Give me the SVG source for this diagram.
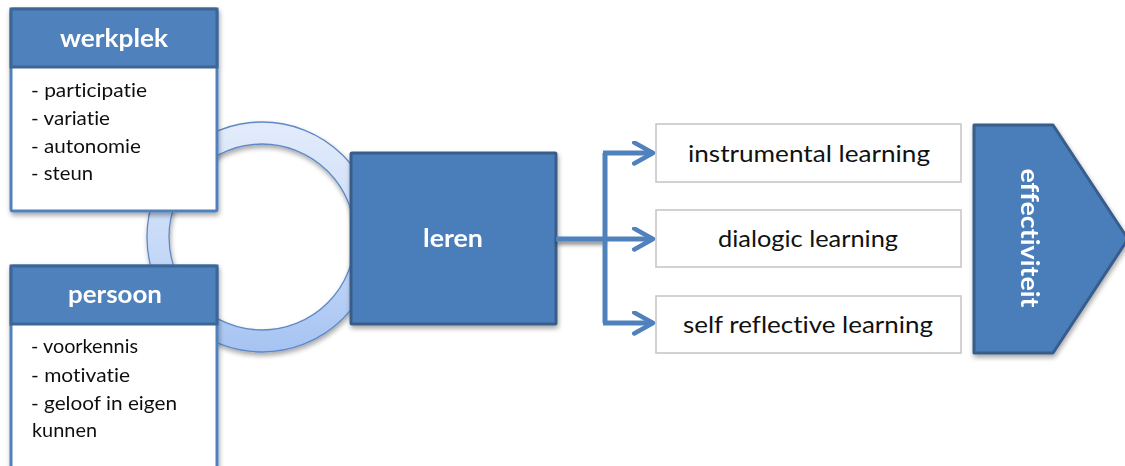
<svg xmlns="http://www.w3.org/2000/svg" width="1125" height="466" viewBox="0 0 1125 466">
  <defs>
    <linearGradient id="ringGrad" x1="0" y1="0" x2="0" y2="1">
      <stop offset="0" stop-color="#e3ecfb"/>
      <stop offset="0.5" stop-color="#c9dbf7"/>
      <stop offset="1" stop-color="#a6c3f2"/>
    </linearGradient>
    <filter id="shadow" x="-10%" y="-10%" width="125%" height="125%">
      <feGaussianBlur in="SourceAlpha" stdDeviation="2.5"/>
      <feOffset dx="1" dy="3" result="b"/>
      <feComponentTransfer><feFuncA type="linear" slope="0.35"/></feComponentTransfer>
      <feMerge><feMergeNode/><feMergeNode in="SourceGraphic"/></feMerge>
    </filter>
    <filter id="lineShadow" filterUnits="userSpaceOnUse" x="540" y="225" width="80" height="30">
      <feGaussianBlur in="SourceAlpha" stdDeviation="2"/>
      <feOffset dx="1" dy="3"/>
      <feComponentTransfer><feFuncA type="linear" slope="0.5"/></feComponentTransfer>
      <feMerge><feMergeNode/><feMergeNode in="SourceGraphic"/></feMerge>
    </filter>
    <marker id="chev" viewBox="0 0 12 12" refX="10" refY="6" markerWidth="5" markerHeight="5" markerUnits="strokeWidth" orient="auto">
      <path d="M1,1 L10,6 L1,11" fill="none" stroke="#4f81bd" stroke-width="2.2" stroke-linecap="round" stroke-linejoin="round"/>
    </marker>
  </defs>
  <style>
    text { font-variant-ligatures: none; }
    .frame { fill: #ffffff; stroke: #4f81bd; stroke-width: 3; }
    .head { fill: #4f81bd; stroke: #3d6596; stroke-width: 3; }
    .title { font-family: Lato, "Liberation Sans", sans-serif; font-weight: bold; font-size: 24px; fill: #ffffff; text-anchor: middle; }
    .item { font-family: Lato, "Liberation Sans", sans-serif; font-size: 19px; fill: #111111; }
    .outcome { fill: #ffffff; stroke: #c4c4c4; stroke-width: 1.5; }
    .label { font-family: Lato, "Liberation Sans", sans-serif; font-size: 24px; fill: #111111; text-anchor: middle; }
    .conn { fill: none; stroke: #4f81bd; stroke-width: 5; }
  </style>

  <rect width="1125" height="466" fill="#ffffff"/>

  <!-- cycle ring behind the two factor boxes -->
  <g id="ring" filter="url(#shadow)">
    <path d="M262,122 A115,115 0 1,1 262,352 A115,115 0 1,1 262,122 Z M262,144 A93,93 0 1,0 262,330 A93,93 0 1,0 262,144 Z" fill="url(#ringGrad)" fill-rule="evenodd" stroke="#5f89c6" stroke-width="1.3"/>
  </g>

  <!-- werkplek -->
  <g id="werkplek" filter="url(#shadow)">
    <rect class="frame" x="11" y="9" width="206" height="202" rx="2"/>
    <rect class="head" x="11" y="9" width="206" height="58"/>
    <text class="title" x="114" y="47" textLength="108" lengthAdjust="spacingAndGlyphs">werkplek</text>
    <text class="item" x="31" y="97" textLength="116" lengthAdjust="spacingAndGlyphs">- participatie</text>
    <text class="item" x="31" y="125" textLength="79" lengthAdjust="spacingAndGlyphs">- variatie</text>
    <text class="item" x="31" y="153" textLength="110" lengthAdjust="spacingAndGlyphs">- autonomie</text>
    <text class="item" x="31" y="180" textLength="62" lengthAdjust="spacingAndGlyphs">- steun</text>
  </g>

  <!-- persoon -->
  <g id="persoon" filter="url(#shadow)">
    <rect class="frame" x="11" y="266" width="206" height="210" rx="2"/>
    <rect class="head" x="11" y="266" width="206" height="58"/>
    <text class="title" x="115" y="303" textLength="94" lengthAdjust="spacingAndGlyphs">persoon</text>
    <text class="item" x="31" y="353" textLength="107" lengthAdjust="spacingAndGlyphs">- voorkennis</text>
    <text class="item" x="31" y="382" textLength="99" lengthAdjust="spacingAndGlyphs">- motivatie</text>
    <text class="item" x="31" y="410" textLength="146" lengthAdjust="spacingAndGlyphs">- geloof in eigen</text>
    <text class="item" x="32" y="437" textLength="65" lengthAdjust="spacingAndGlyphs">kunnen</text>
  </g>

  <!-- leren -->
  <g id="leren" filter="url(#shadow)">
    <rect x="351" y="153" width="205" height="171" fill="#4a7ebb" stroke="#385d8a" stroke-width="3" rx="1"/>
    <text class="title" x="453" y="247" textLength="60" lengthAdjust="spacingAndGlyphs">leren</text>
  </g>

  <!-- connectors -->
  <g id="connectors">
    <path class="conn" d="M556,239 H605" filter="url(#lineShadow)"/>
    <path class="conn" d="M605,153 V323"/>
    <path class="conn" d="M603,153 H653" marker-end="url(#chev)"/>
    <path class="conn" d="M605,239 H653" marker-end="url(#chev)"/>
    <path class="conn" d="M603,323 H653" marker-end="url(#chev)"/>
  </g>

  <!-- learning types -->
  <g id="instrumental">
    <rect class="outcome" x="656" y="124" width="305" height="58"/>
    <text class="label" x="809" y="162" textLength="242" lengthAdjust="spacingAndGlyphs">instrumental learning</text>
  </g>
  <g id="dialogic">
    <rect class="outcome" x="656" y="210" width="305" height="57"/>
    <text class="label" x="808" y="247" textLength="180" lengthAdjust="spacingAndGlyphs">dialogic learning</text>
  </g>
  <g id="selfreflective">
    <rect class="outcome" x="656" y="296" width="305" height="57"/>
    <text class="label" x="808" y="333" textLength="250" lengthAdjust="spacingAndGlyphs">self reflective learning</text>
  </g>

  <!-- effectiviteit -->
  <g id="effectiviteit" filter="url(#shadow)">
    <path d="M974,125 H1053 L1128,239 L1053,353 H974 Z" fill="#4a7ebb" stroke="#385d8a" stroke-width="3" stroke-linejoin="round"/>
    <text class="title" transform="translate(1021,238) rotate(90)" x="0" y="0" textLength="139" lengthAdjust="spacingAndGlyphs">effectiviteit</text>
  </g>
</svg>
